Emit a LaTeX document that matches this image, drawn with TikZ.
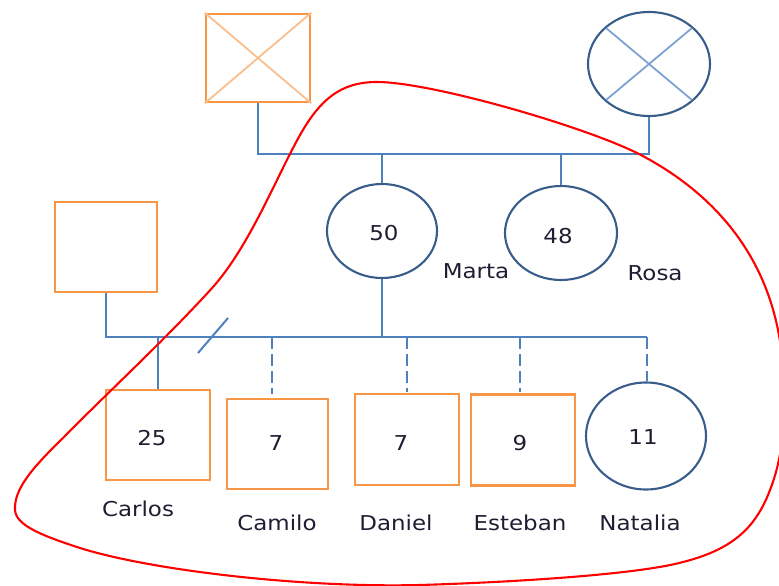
\documentclass[tikz,border=0pt]{standalone}
\usepackage{fontspec}
\setmainfont{DejaVu Sans}[FakeStretch=1.12]
\usetikzlibrary{shapes.geometric,calc}
\definecolor{boxorange}{RGB}{247,150,70}
\definecolor{lightorange}{RGB}{250,190,140}
\definecolor{lineblue}{RGB}{79,129,189}
\definecolor{circblue}{RGB}{56,93,138}
\definecolor{crossblue}{RGB}{125,162,210}
\definecolor{txt}{RGB}{30,30,50}
\begin{document}
\begin{tikzpicture}[x=1pt,y=-1pt,
  boxnode/.style={rectangle, draw=boxorange, line width=2.6pt, inner sep=0pt},
  femnode/.style={ellipse, draw=circblue, line width=2.1pt, inner sep=0pt},
  link/.style={draw=lineblue, line width=2.7pt},
  dlink/.style={link, dash pattern=on 12pt off 5pt},
  lbl/.style={font=\fontsize{20.5}{24}\selectfont, text=txt, inner sep=0pt},
  blob/.style={draw=red, line width=2.1pt}]
\useasboundingbox (0,0) rectangle (779,586);
\clip (0,0) rectangle (779,586);
% grandparents
\node[boxnode, minimum width=104pt, minimum height=88pt] (gf) at (258,58) {};
\draw[lightorange, line width=1.8pt] (gf.north west) -- (gf.south east) (gf.north east) -- (gf.south west);
\node[femnode, minimum width=122pt, minimum height=104pt] (gm) at (649,64) {};
\draw[crossblue, line width=1.8pt] ($(gm.center)+(-43,-36)$) -- ($(gm.center)+(43,36)$)
  ($(gm.center)+(43,-36)$) -- ($(gm.center)+(-43,36)$);
\coordinate (t1) at (258,154);
\coordinate (t2) at (649,154);
\draw[link] (gf.south) -- (t1) -- (t2) -- (gm.south);
% second generation
\node[femnode, minimum width=110pt, minimum height=94pt] (marta) at (382,231) {};
\node[femnode, minimum width=112pt, minimum height=94pt] (rosa) at (561,233) {};
\draw[link] (marta.north) -- (marta.north |- t1);
\draw[link] (rosa.north) -- (rosa.north |- t1);
\node[lbl] (n50) at (384,233) {50};
\node[lbl] (n48) at (558,236) {48};
\node[lbl] (lmarta) at (476,271) {Marta};
\node[lbl] (lrosa) at (655,273) {Rosa};
\node[boxnode, minimum width=102pt, minimum height=90pt] (hus) at (106,247) {};
\coordinate (b1) at (106,337);
\coordinate (b2) at (647,337);
\draw[link] (hus.south) -- (b1) -- (b2);
\draw[link] (marta.south) -- (marta.south |- b1);
\coordinate (s1) at (198,353);
\coordinate (s2) at (228,318);
\draw[lineblue, line width=2pt] (s1) -- (s2);
% children
\node[boxnode, minimum width=104pt, minimum height=90pt] (carlos) at (158,435) {};
\node[boxnode, minimum width=101pt, minimum height=90pt] (camilo) at (277.5,444) {};
\node[boxnode, minimum width=104pt, minimum height=91pt] (daniel) at (407,439.5) {};
\node[boxnode, minimum width=104pt, minimum height=91pt] (esteban) at (523,440) {};
\node[femnode, minimum width=120pt, minimum height=107pt] (natalia) at (646,436) {};
\draw[link] (carlos.north |- b1) -- (carlos.north);
\draw[dlink] ([xshift=-5.5pt]camilo.north |- b1) -- ([xshift=-5.5pt,yshift=4pt]camilo.north);
\draw[dlink] (daniel.north |- b1) -- ([yshift=1pt]daniel.north);
\draw[dlink] ([xshift=-3pt]esteban.north |- b1) -- ([xshift=-3pt,yshift=1pt]esteban.north);
\draw[dlink] (b2) -- ([xshift=1pt]natalia.north);
\node[lbl] (n25) at (152,438) {25};
\node[lbl] (n7a) at (276,443) {7};
\node[lbl] (n7b) at (401,443) {7};
\node[lbl] (n9) at (520,443) {9};
\node[lbl] (n11) at (643,437) {11};
\node[lbl] (lcarlos) at (138,509) {Carlos};
\node[lbl] (lcamilo) at (277,523) {Camilo};
\node[lbl] (ldaniel) at (396,523) {Daniel};
\node[lbl] (lesteban) at (520,523) {Esteban};
\node[lbl] (lnatalia) at (640,523) {Natalia};
% red enclosure
\draw[blob] (15,510)
  .. controls (14,490) and (30,470) .. (63,438)
  .. controls (105,395) and (165,340) .. (213,287)
  .. controls (250,245) and (275,180) .. (300,135)
  .. controls (320,100) and (340,82) .. (377,82)
  .. controls (430,82) and (580,125) .. (637,153)
  .. controls (700,185) and (760,240) .. (778,330)
  .. controls (786,370) and (790,440) .. (770,490)
  .. controls (755,530) and (730,550) .. (683,562)
  .. controls (640,574) and (520,582) .. (420,585)
  .. controls (300,588) and (150,570) .. (80,548)
  .. controls (40,535) and (16,525) .. cycle;
\end{tikzpicture}
\end{document}
